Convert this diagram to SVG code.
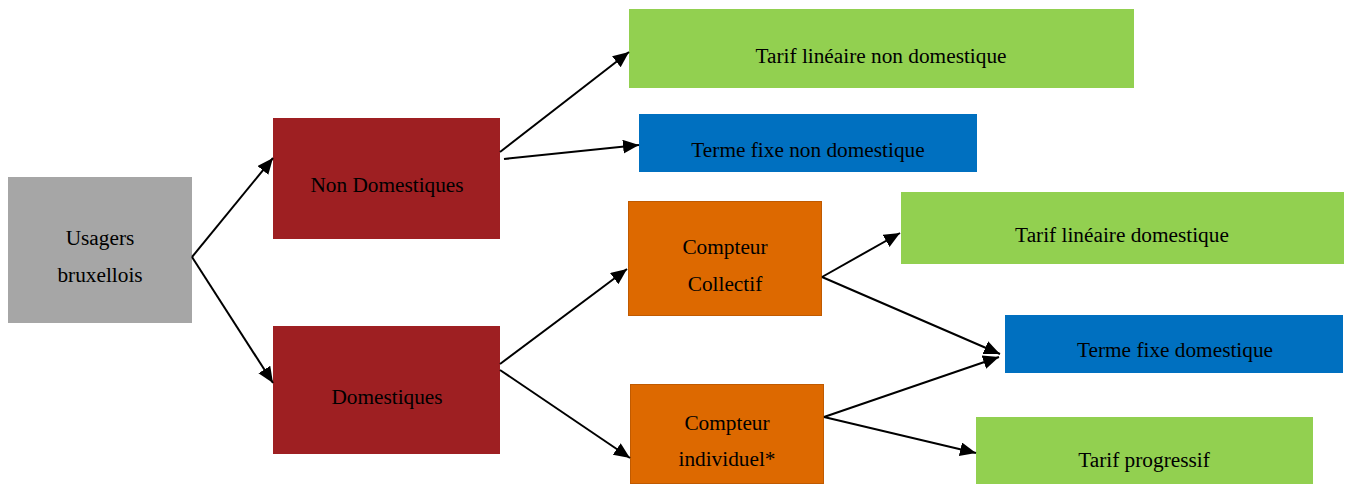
<svg xmlns="http://www.w3.org/2000/svg" width="1346" height="484" viewBox="0 0 1346 484">
<style>
text{font-family:"Liberation Serif","Times New Roman",serif;font-size:21.3px;fill:#000;text-anchor:middle}
.gray{fill:#a6a6a6}
.red{fill:#9e1f22}
.orange{fill:#dd6900;stroke:#c05a00;stroke-width:1}
.green{fill:#92d050}
.blue{fill:#0070c0}
.conn line{stroke:#000;stroke-width:2;marker-end:url(#arr)}
</style>
<defs>
<marker id="arr" markerUnits="userSpaceOnUse" markerWidth="18" markerHeight="16" refX="16" refY="7" orient="auto">
<path d="M0,0 L16,7 L0,14 z" fill="#000"/>
</marker>
</defs>
<rect width="1346" height="484" fill="#fff"/>
<g id="usagers"><rect class="gray" x="8" y="177" width="184" height="146"/><text x="100" y="245">Usagers</text><text x="100" y="282">bruxellois</text></g>
<g id="non-domestiques"><rect class="red" x="273" y="118" width="227" height="121"/><text x="387" y="192">Non Domestiques</text></g>
<g id="domestiques"><rect class="red" x="273" y="326" width="227" height="128"/><text x="387" y="404">Domestiques</text></g>
<g id="tarif-lineaire-nd"><rect class="green" x="629" y="9" width="505" height="79"/><text x="881" y="63">Tarif linéaire non domestique</text></g>
<g id="terme-fixe-nd"><rect class="blue" x="639" y="114" width="338" height="58"/><text x="808" y="157">Terme fixe non domestique</text></g>
<g id="compteur-collectif"><rect class="orange" x="628.5" y="201.5" width="193" height="114"/><text x="725" y="254">Compteur</text><text x="725" y="291">Collectif</text></g>
<g id="compteur-individuel"><rect class="orange" x="630.5" y="384.5" width="193" height="99"/><text x="727" y="430">Compteur</text><text x="727" y="466">individuel*</text></g>
<g id="tarif-lineaire-d"><rect class="green" x="901" y="192" width="443" height="72"/><text x="1122" y="242">Tarif linéaire domestique</text></g>
<g id="terme-fixe-d"><rect class="blue" x="1005" y="315" width="338" height="58"/><text x="1175" y="357">Terme fixe domestique</text></g>
<g id="tarif-progressif"><rect class="green" x="976" y="417" width="337" height="67"/><text x="1144" y="467">Tarif progressif</text></g>
<g id="connectors" class="conn">
<line x1="192" y1="257" x2="273" y2="158"/>
<line x1="192" y1="257" x2="273" y2="383"/>
<line x1="500" y1="152" x2="629" y2="52"/>
<line x1="504" y1="159" x2="639" y2="145"/>
<line x1="500" y1="364" x2="627" y2="269"/>
<line x1="500" y1="370" x2="630" y2="458"/>
<line x1="822" y1="277" x2="900" y2="233"/>
<line x1="822" y1="277" x2="1000" y2="354"/>
<line x1="824" y1="417" x2="999" y2="357"/>
<line x1="824" y1="417" x2="976" y2="453"/>
</g>
</svg>
